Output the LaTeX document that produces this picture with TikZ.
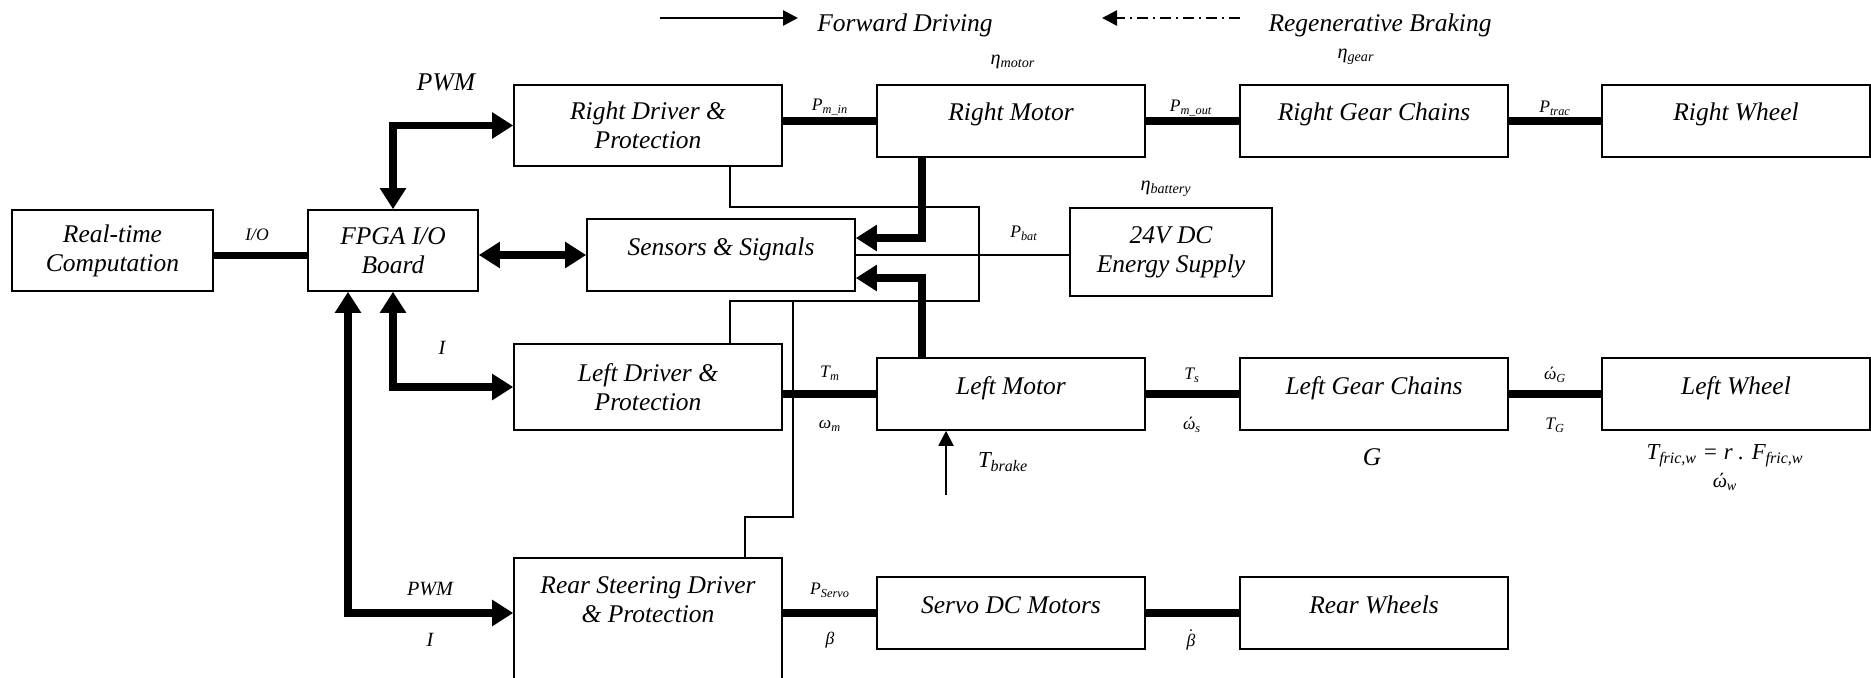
\documentclass[tikz,border=0pt]{standalone}
\usepackage{fontspec}
\usepackage{amsmath}
\setmainfont{Liberation Serif}
\usetikzlibrary{arrows.meta}

\begin{document}
\begin{tikzpicture}[
      bloc/.style={
          draw, line width=0.9pt, align=center,
          minimum width=5.36cm, minimum height=1.44cm, inner sep=2pt,
          font=\itshape\fontsize{14.5}{16.5}\selectfont
      },
      bloc1/.style={bloc, text height=0.36cm, text depth=0.36cm},
      texte/.style={align=center, inner sep=1pt, font=\itshape\fontsize{14.5}{16.5}\selectfont},
      etiq/.style={inner sep=1pt, font=\itshape\fontsize{10}{12}\selectfont},
      etiqm/.style={inner sep=1pt, font=\itshape\fontsize{11.5}{13}\selectfont},
      etiqg/.style={inner sep=1pt, font=\itshape\fontsize{13}{15}\selectfont},
      puissance/.style={line width=4.5pt},
      bus/.style={line width=4.5pt, {Triangle[length=0.42cm,width=0.5cm]}-{Triangle[length=0.42cm,width=0.5cm]}},
      retour/.style={line width=4.5pt, -{Triangle[length=0.42cm,width=0.5cm]}},
      fil/.style={line width=1.1pt}
  ]
      \useasboundingbox (0,0) rectangle (37.42,-13.54);
      \clip (0,0) rectangle (37.42,-13.54);

      % Légende
      \coordinate (legA) at (13.2,-0.36);
      \coordinate (legB) at (15.96,-0.36);
      \coordinate (legC) at (24.8,-0.36);
      \coordinate (legD) at (22.04,-0.36);
      \draw[line width=1.5pt, -{Triangle[length=0.3cm,width=0.3cm]}] (legA) -- (legB);
      \draw[line width=1.5pt, dash pattern=on 0.22cm off 0.1cm on 0.04cm off 0.1cm,
            -{Triangle[length=0.3cm,width=0.3cm]}] (legC) -- (legD);
      \node[texte] (legfwd) at (18.1,-0.5) {Forward Driving};
      \node[texte] (legreg) at (27.6,-0.5) {Regenerative Braking};

      % Blocs
      \node[bloc, minimum width=4.02cm, minimum height=1.62cm] (calc) at (2.25,-5.01) {Real-time\\Computation};
      \node[bloc, minimum width=3.4cm, minimum height=1.62cm] (fpga) at (7.86,-5.01) {FPGA I/O\\Board};
      \node[bloc, minimum height=1.62cm] (rdrv) at (12.96,-2.51) {Right Driver \&\\Protection};
      \node[bloc1] (rmot) at (20.22,-2.42) {Right Motor};
      \node[bloc1] (rgear) at (27.48,-2.42) {Right Gear Chains};
      \node[bloc1] (rwheel) at (34.72,-2.42) {Right Wheel};
      \node[bloc1] (sens) at (14.42,-5.1) {Sensors \& Signals};
      \node[bloc, minimum width=4.04cm, minimum height=1.76cm] (batt) at (23.42,-5.04) {24V DC\\Energy Supply};
      \node[bloc, minimum height=1.72cm] (ldrv) at (12.96,-7.74) {Left Driver \&\\Protection};
      \node[bloc1] (lmot) at (20.22,-7.88) {Left Motor};
      \node[bloc1] (lgear) at (27.48,-7.88) {Left Gear Chains};
      \node[bloc1] (lwheel) at (34.72,-7.88) {Left Wheel};
      \node[bloc, minimum height=3cm, anchor=north] (rear) at (12.96,-11.14) {};
      \node[texte] (reartxt) at (12.96,-12.0) {Rear Steering Driver\\\& Protection};
      \node[bloc1] (servo) at (20.22,-12.26) {Servo DC Motors};
      \node[bloc1] (rwhls) at (27.48,-12.26) {Rear Wheels};

      % Liaisons de puissance
      \draw[puissance] ([yshift=-0.1cm]calc.east) -- ([yshift=-0.1cm]fpga.west);
      \draw[puissance] (rdrv.east |- rmot.west) -- (rmot.west);
      \draw[puissance] (rmot) -- (rgear);
      \draw[puissance] (rgear) -- (rwheel);
      \draw[puissance] (ldrv.east |- lmot.west) -- (lmot.west);
      \draw[puissance] (lmot) -- (lgear);
      \draw[puissance] (lgear) -- (lwheel);
      \draw[puissance] (rear.east |- servo.west) -- (servo.west);
      \draw[puissance] (servo) -- (rwhls);

      % Commande
      \draw[bus] (fpga.north) |- (rdrv.west);
      \draw[bus] (fpga.south) |- (ldrv.west);
      \draw[bus] ([xshift=-0.9cm]fpga.south) |- (rear.west |- servo.west);
      \draw[bus] (fpga.east |- sens.west) -- (sens.west);
      \draw[retour] ([xshift=-1.78cm]rmot.south) |- ([yshift=0.34cm]sens.east);
      \draw[retour] ([xshift=-1.78cm]lmot.north) |- ([yshift=-0.46cm]sens.east);

      % Alimentation
      \coordinate (busR) at (19.58,-4.14);
      \coordinate (busL) at (19.58,-6.02);
      \coordinate (busM) at (15.86,-6.02);
      \coordinate (busB) at (15.86,-10.34);
      \draw[fil] ([xshift=1.64cm]rdrv.south) |- (busR) -- (busL) -| ([xshift=1.64cm]ldrv.north);
      \draw[fil] (busM) -- (busB) -| ([xshift=1.94cm]rear.north);
      \draw[fil] (sens.east) -- (batt.west |- sens.east);

      % Frein
      \coordinate (frein) at (18.92,-9.9);
      \draw[fil, -{Triangle[length=0.3cm,width=0.3cm]}] (frein) -- (frein |- lmot.south);

      % Grandeurs
      \node[texte] (lpwm) at (8.92,-1.64) {PWM};
      \node[etiq] (lio) at (5.14,-4.7) {I/O};
      \node[etiqm] (li) at (8.84,-6.96) {I};
      \node[etiqm] (lpwm2) at (8.6,-11.78) {PWM};
      \node[etiqm] (li2) at (8.6,-12.8) {I};
      \node[etiq] (lpmin) at (16.6,-2.14) {P\textsubscript{m\_in}};
      \node[etiqm] (letam) at (20.26,-1.24) {η\textsubscript{motor}};
      \node[etiq] (lpmout) at (23.82,-2.16) {P\textsubscript{m\_out}};
      \node[etiqm] (letag) at (27.12,-1.14) {η\textsubscript{gear}};
      \node[etiq] (lptrac) at (31.1,-2.16) {P\textsubscript{trac}};
      \node[etiqm] (letab) at (23.32,-3.78) {η\textsubscript{battery}};
      \node[etiq] (lpbat) at (20.48,-4.66) {P\textsubscript{bat}};
      \node[etiq] (ltm) at (16.6,-7.47) {T\textsubscript{m}};
      \node[etiq] (lwm) at (16.6,-8.52) {ω\textsubscript{m}};
      \node[etiq] (lts) at (23.84,-7.5) {T\textsubscript{s}};
      \node[etiq] (lws) at (23.84,-8.5) {ώ\textsubscript{s}};
      \node[etiq] (lwg) at (31.1,-7.5) {ώ\textsubscript{G}};
      \node[etiq] (ltg) at (31.1,-8.5) {T\textsubscript{G}};
      \node[etiqg] (ltbrake) at (20.06,-9.24) {T\textsubscript{brake}};
      \node[texte] (lg) at (27.44,-9.14) {G};
      \node[etiqg] (ltfric) at (34.5,-9.12) {T\textsubscript{fric,w} = r . F\textsubscript{fric,w}};
      \node[etiqm] (lww) at (34.5,-9.64) {ώ\textsubscript{w}};
      \node[etiq] (lpservo) at (16.6,-11.8) {P\textsubscript{Servo}};
      \node[etiq] (lbeta) at (16.6,-12.8) {β};
      \node[etiq] (lbetad) at (23.82,-12.8) {\(\dot{\text{β}}\)};
  \end{tikzpicture}
\end{document}
